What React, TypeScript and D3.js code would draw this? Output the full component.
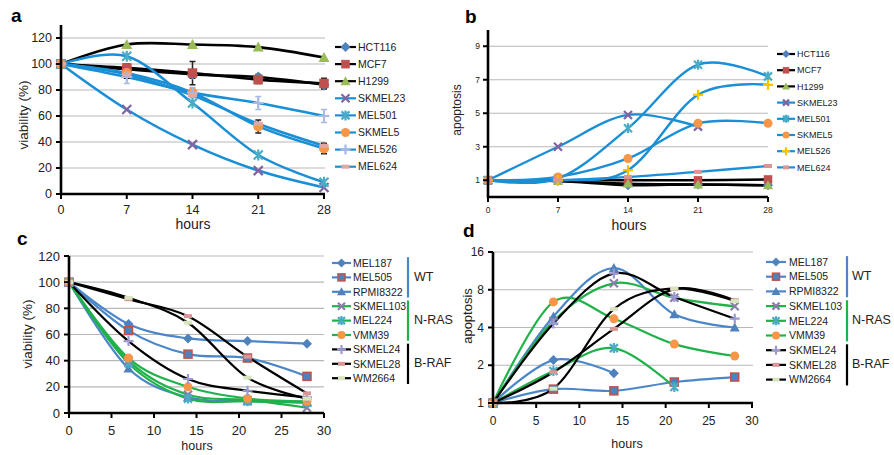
import React from "react";
import * as d3 from "d3";

// panels a & b
const hoursAB = [0, 7, 14, 21, 28];
const cellsAB = ["HCT116", "MCF7", "H1299", "SKMEL23", "MEL501", "SKMEL5", "MEL526", "MEL624"];
const viabilityA = [
  [100, 96, 92, 90, 84],
  [100, 97, 93, 88, 85],
  [100, 115, 115, 113, 105],
  [100, 65, 38, 18, 5],
  [100, 106, 70, 30, 9],
  [100, 93, 78, 52, 35],
  [100, 90, 78, 70, 60],
  [100, 92, 76, 54, 37],
];
const errorA = [
  [0, 3, 3, 2, 3],
  [0, 3, 9, 3, 4],
  [0, 0, 0, 0, 0],
  [0, 0, 0, 0, 0],
  [0, 0, 0, 0, 0],
  [0, 4, 0, 5, 4],
  [0, 5, 4, 5, 5],
  [0, 0, 0, 0, 0],
];
const apoptosisB = [
  [1, 0.95, 0.7, 0.75, 0.7],
  [1, 1.0, 1.0, 1.0, 1.05],
  [1, 0.95, 0.8, 0.75, 0.7],
  [1, 3.0, 4.9, 4.2],
  [1, 1.1, 4.1, 7.9, 7.2],
  [1, 1.2, 2.3, 4.4, 4.4],
  [1, 1.0, 1.6, 6.1, 6.7],
  [1, 1.0, 1.2, 1.5, 1.85],
];

// panels c & d
const hoursCD = [0, 7, 14, 21, 28];
const cellsCD = ["MEL187", "MEL505", "RPMI8322", "SKMEL103", "MEL224", "VMM39", "SKMEL24", "SKMEL28", "WM2664"];
const groupsCD = ["WT", "N-RAS", "B-RAF"];
const viabilityC = [
  [100, 68, 57, 55, 53],
  [100, 63, 45, 42, 28],
  [100, 34, 12, 9, 8],
  [100, 40, 14, 10, 4],
  [100, 38, 11, 9, 8],
  [100, 42, 20, 11, 9],
  [100, 55, 26, 17, 12],
  [100, 87, 74, 43, 15],
  [100, 88, 69, 27, 11],
];
const apoptosisD = [
  [1, 2.2, 1.73],
  [1, 1.29, 1.25, 1.47, 1.61],
  [1, 4.9, 11.9, 5.1, 4.0],
  [1, 4.5, 9, 6.9, 5.9],
  [1, 1.8, 2.74, 1.34],
  [1, 6.4, 4.7, 2.95, 2.37],
  [1, 4.3, 10.8, 7.0, 4.7],
  [1, 1.76, 3.9, 8.1, 6.6],
  [1, 1.3, 5.6, 8.2, 6.5],
];

const xTicksAB = [0, 7, 14, 21, 28];
const xTicksCD = [0, 5, 10, 15, 20, 25, 30];
const yTicksA = [0, 20, 40, 60, 80, 100, 120];
const yTicksB = [1, 3, 5, 7, 9];
const yTicksD = [1, 2, 4, 8, 16];

const K = "#000";
const BLUE1 = "#1a8fd6";
const BLUE2 = "#4a86c8";
const GREEN = "#20b24a";

type Sty = { line: string; mark: string; fill: string; stroke?: string; err?: string };

const stylesA: Sty[] = [
  { line: K, mark: "diamond", fill: "#4f81bd" },
  { line: K, mark: "square", fill: "#c0504d" },
  { line: K, mark: "triangle", fill: "#9bbb59" },
  { line: BLUE1, mark: "x", fill: "#8064a2" },
  { line: BLUE1, mark: "star", fill: "#4bacc6" },
  { line: BLUE1, mark: "circle", fill: "#f79646" },
  { line: BLUE1, mark: "plus", fill: "#a9b8e4", err: "#a9b8e4" },
  { line: BLUE1, mark: "dash", fill: "#e0a8a0" },
];
const stylesB: Sty[] = stylesA.map((s, i) => (i === 6 ? { ...s, fill: "#ffc000" } : i === 7 ? { ...s, fill: "#d99694" } : s));
const stylesCD: Sty[] = [
  { line: BLUE2, mark: "diamond", fill: "#4f81bd" },
  { line: BLUE2, mark: "square", fill: "#4f81bd", stroke: "#c0504d" },
  { line: BLUE2, mark: "triangle", fill: "#4f81bd" },
  { line: GREEN, mark: "x", fill: "#8a7fa8" },
  { line: GREEN, mark: "star", fill: "#4bacc6" },
  { line: GREEN, mark: "circle", fill: "#f79646" },
  { line: K, mark: "plus", fill: "#9a9ad0" },
  { line: K, mark: "dash", fill: "#d99694" },
  { line: K, mark: "dash", fill: "#d7e4bd" },
];
const groupColors = [BLUE2, GREEN, K];

const FONT = "Liberation Sans, Arial, sans-serif";

function Marker({ kind, x, y, s, fill, stroke }: any) {
  const h = s / 2;
  switch (kind) {
    case "diamond":
      return <path d={`M${x},${y - h - 1}L${x + h + 1},${y}L${x},${y + h + 1}L${x - h - 1},${y}Z`} fill={fill} />;
    case "square":
      return <rect x={x - h} y={y - h} width={s} height={s} fill={fill} stroke={stroke || fill} strokeWidth={stroke ? 1.5 : 0.5} />;
    case "triangle":
      return <path d={`M${x},${y - h - 1}L${x + h + 1},${y + h}L${x - h - 1},${y + h}Z`} fill={fill} />;
    case "x":
      return <path d={`M${x - h},${y - h}L${x + h},${y + h}M${x - h},${y + h}L${x + h},${y - h}`} stroke={fill} strokeWidth={2.2} />;
    case "star":
      return (
        <path
          d={`M${x - h},${y - h}L${x + h},${y + h}M${x - h},${y + h}L${x + h},${y - h}M${x},${y - h - 1}L${x},${y + h + 1}`}
          stroke={fill}
          strokeWidth={2.2}
        />
      );
    case "circle":
      return <circle cx={x} cy={y} r={h + 0.5} fill={fill} />;
    case "plus":
      return <path d={`M${x - h - 1},${y}L${x + h + 1},${y}M${x},${y - h - 1}L${x},${y + h + 1}`} stroke={fill} strokeWidth={2.2} />;
    case "dash":
      return <rect x={x - h} y={y - 2} width={s} height={4} fill={fill} />;
  }
  return null;
}

function Panel(p: any) {
  const { x, y, hours, rows, styles, xTicks, yTicks, xEnd, yTop, tickFs, ms, lw, errs } = p;
  const x0 = x.range()[0];
  const y0 = y.range()[0];
  const line = d3
    .line<number>()
    .x((_, i) => x(hours[i]))
    .y((d) => y(d))
    .curve(d3.curveCatmullRom.alpha(0));
  return (
    <g fontFamily={FONT}>
      {yTicks.map((t: number) => (
        <line key={"g" + t} x1={x0} x2={xEnd} y1={y(t)} y2={y(t)} stroke="#b8b8b8" strokeWidth={1.2} />
      ))}
      {rows.map((r: number[], i: number) => (
        <path key={"l" + i} d={line(r) || ""} fill="none" stroke={styles[i].line} strokeWidth={lw} />
      ))}
      {errs &&
        rows.map((r: number[], i: number) =>
          r.map((v, j) => {
            const e = errs[i][j];
            if (!e) return null;
            const c = styles[i].err || "#222";
            const cx = x(hours[j]);
            return (
              <path
                key={`e${i}-${j}`}
                d={`M${cx},${y(v - e)}L${cx},${y(v + e)}M${cx - 3},${y(v - e)}L${cx + 3},${y(v - e)}M${cx - 3},${y(v + e)}L${cx + 3},${y(v + e)}`}
                stroke={c}
                strokeWidth={1.5}
              />
            );
          })
        )}
      {rows.map((r: number[], i: number) =>
        r.map((v, j) => (
          <Marker key={`m${i}-${j}`} kind={styles[i].mark} x={x(hours[j])} y={y(v)} s={ms} fill={styles[i].fill} stroke={styles[i].stroke} />
        ))
      )}
      <line x1={x0} x2={x0} y1={yTop} y2={y0 + 1} stroke="#000" strokeWidth={2.6} />
      <line x1={x0 - 1} x2={xEnd} y1={y0} y2={y0} stroke="#000" strokeWidth={2.6} />
      {yTicks.map((t: number) => (
        <g key={"y" + t}>
          <line x1={x0 - 5} x2={x0} y1={y(t)} y2={y(t)} stroke="#000" strokeWidth={2} />
          <text x={x0 - p.yLabDx} y={y(t)} dy="0.35em" textAnchor="end" fontSize={tickFs} fill="#222">
            {t}
          </text>
        </g>
      ))}
      {xTicks.map((t: number) => (
        <g key={"x" + t}>
          <line x1={x(t)} x2={x(t)} y1={y0} y2={y0 + 5} stroke="#000" strokeWidth={2} />
          <text x={x(t)} y={y0 + p.xLabDy} textAnchor="middle" fontSize={tickFs} fill="#222">
            {t}
          </text>
        </g>
      ))}
    </g>
  );
}

function Legend({ names, styles, x1, x2, tx, y0, step, fs, ms }: any) {
  return (
    <g fontFamily={FONT}>
      {names.map((n: string, i: number) => {
        const yy = y0 + i * step;
        const s = styles[i];
        return (
          <g key={n}>
            <line x1={x1} x2={x2} y1={yy} y2={yy} stroke={s.line} strokeWidth={2.2} />
            <Marker kind={s.mark} x={(x1 + x2) / 2} y={yy} s={ms} fill={s.fill} stroke={s.stroke} />
            <text x={tx} y={yy} dy="0.36em" fontSize={fs} fill="#222">
              {n}
            </text>
          </g>
        );
      })}
    </g>
  );
}

function Brackets({ x, y0, step, tx }: any) {
  return (
    <g fontFamily={FONT}>
      {groupsCD.map((g, k) => {
        const top = y0 + k * 3 * step - step * 0.4;
        const bot = y0 + (k * 3 + 2) * step + step * 0.4;
        return (
          <g key={g}>
            <line x1={x} x2={x} y1={top} y2={bot} stroke={groupColors[k]} strokeWidth={2.2} />
            <text x={tx} y={(top + bot) / 2 - 1} dy="0.36em" fontSize={12.5} fill="#222">
              {g}
            </text>
          </g>
        );
      })}
    </g>
  );
}

export default function App() {
  const xa = d3.scaleLinear().domain([0, 28]).range([61, 324]);
  const ya = d3.scaleLinear().domain([0, 120]).range([194, 38]);
  const xb = d3.scaleLinear().domain([0, 28]).range([488, 768]);
  const yb = d3.scaleLinear().domain([0, 10]).range([197, 29.5]);
  const xc = d3.scaleLinear().domain([0, 30]).range([69, 324]);
  const yc = d3.scaleLinear().domain([0, 120]).range([413, 256]);
  const xd = d3.scaleLinear().domain([0, 30]).range([493, 752]);
  const yd = d3.scaleLog().base(2).domain([1, 16]).range([403, 252]);

  return (
    <svg width={894} height={455} style={{ position: "absolute", left: 0, top: 0, background: "#fff" }} fontFamily={FONT}>
      <rect width={894} height={455} fill="#fff" />
      {/* a */}
      <text x={11} y={22} fontSize={19} fontWeight="bold">a</text>
      <Panel x={xa} y={ya} hours={hoursAB} rows={viabilityA} styles={stylesA} errs={errorA} xTicks={xTicksAB} yTicks={yTicksA}
        xEnd={325} yTop={25} tickFs={12.5} ms={9} lw={2.6} xLabDy={20} yLabDx={9} />
      <text transform="translate(28,115) rotate(-90)" textAnchor="middle" fontSize={13.5} fill="#222">viability (%)</text>
      <text x={193} y={229} textAnchor="middle" fontSize={14} fill="#222">hours</text>
      <Legend names={cellsAB} styles={stylesA} x1={335} x2={356} tx={358} y0={47} step={17.1} fs={10.5} ms={8} />

      {/* b */}
      <text x={465} y={23} fontSize={19} fontWeight="bold">b</text>
      <Panel x={xb} y={yb} hours={hoursAB} rows={apoptosisB} styles={stylesB} xTicks={xTicksAB} yTicks={yTicksB}
        xEnd={768} yTop={30} tickFs={8.5} ms={8} lw={2.4} xLabDy={16} yLabDx={8} />
      <text transform="translate(461,110) rotate(-90)" textAnchor="middle" fontSize={12} fill="#222">apoptosis</text>
      <text x={629} y={230} textAnchor="middle" fontSize={14} fill="#222">hours</text>
      <Legend names={cellsAB} styles={stylesB} x1={777} x2={795} tx={797} y0={54} step={16.2} fs={9} ms={6} />

      {/* c */}
      <text x={17} y={245} fontSize={19} fontWeight="bold">c</text>
      <Panel x={xc} y={yc} hours={hoursCD} rows={viabilityC} styles={stylesCD} xTicks={xTicksCD} yTicks={yTicksA}
        xEnd={324} yTop={256} tickFs={13} ms={8} lw={2.2} xLabDy={22} yLabDx={9} />
      <text transform="translate(32,334) rotate(-90)" textAnchor="middle" fontSize={13.5} fill="#222">viability (%)</text>
      <text x={197} y={450} textAnchor="middle" fontSize={12.5} fill="#222">hours</text>
      <Legend names={cellsCD} styles={stylesCD} x1={332} x2={351} tx={353} y0={263} step={14.4} fs={10.5} ms={7} />
      <Brackets x={408} y0={263} step={14.4} tx={414} />

      {/* d */}
      <text x={463} y={237} fontSize={19} fontWeight="bold">d</text>
      <Panel x={xd} y={yd} hours={hoursCD} rows={apoptosisD} styles={stylesCD} xTicks={xTicksCD} yTicks={yTicksD}
        xEnd={753} yTop={252} tickFs={12} ms={8} lw={2.2} xLabDy={22} yLabDx={9} />
      <text transform="translate(472,316) rotate(-90)" textAnchor="middle" fontSize={13} fill="#222">apoptosis</text>
      <text x={627} y={448} textAnchor="middle" fontSize={12.5} fill="#222">hours</text>
      <Legend names={cellsCD} styles={stylesCD} x1={766} x2={786} tx={789} y0={262} step={14.7} fs={10.5} ms={7} />
      <Brackets x={847} y0={262} step={14.7} tx={852} />
    </svg>
  );
}
